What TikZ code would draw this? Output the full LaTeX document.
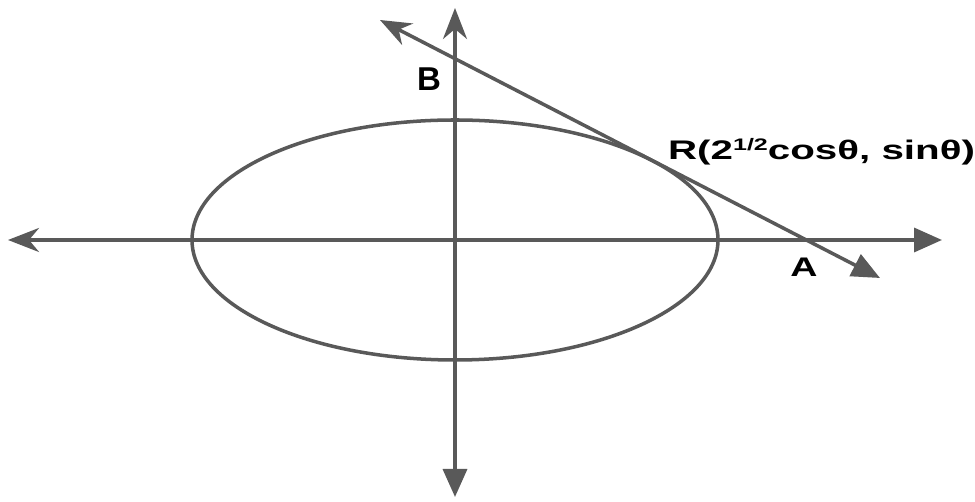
\documentclass[tikz,border=0pt]{standalone}
\usepackage{fontspec}
\setmainfont{Liberation Sans}
\usetikzlibrary{arrows.meta}

\begin{document}
\begin{tikzpicture}[
            x=0.02cm, y=-0.02cm,
            line/.style={line width=2pt, draw=axisgray},
            both/.style={line, {Stealth[length=0.62cm, width=0.48cm, inset=0.2cm]}-{Triangle[length=0.56cm, width=0.48cm]}},
            lbl/.style={font=\fontsize{15.3}{18}\selectfont\bfseries, text=black, inner sep=1pt}
        ]
            \definecolor{axisgray}{HTML}{595959}
            \useasboundingbox (0,0) rectangle (975,502);

            % --- points ---
            \coordinate (O) at (455,240);
            \coordinate (xl) at (8,240);
            \coordinate (xr) at (942,240);
            \coordinate (yt) at (455,8);
            \coordinate (yb) at (455,497);
            \coordinate (t1) at (380,20);
            \coordinate (t2) at (880,278);

            % --- ellipse ---
            \draw[line] (O) ellipse [x radius=263, y radius=120];

            % --- axes ---
            \draw[both] (xl) -- (xr);
            \draw[both] (yt) -- (yb);

            % --- tangent ---
            \draw[both] (t1) -- (t2);

            % --- labels ---
            \node[lbl, font=\fontsize{18.8}{20}\selectfont\bfseries] (B) at (429,79) {B};
            \node[lbl] (A) at (804,267) {\scalebox{1.4}[1]{A}};
            \node[lbl, anchor=west] (R) at (666,152) {\scalebox{1.5}[1]{R(2\raisebox{0.6ex}{\fontsize{9.5}{10}\selectfont 1/2}cosθ, sinθ)}};
        \end{tikzpicture}
\end{document}
